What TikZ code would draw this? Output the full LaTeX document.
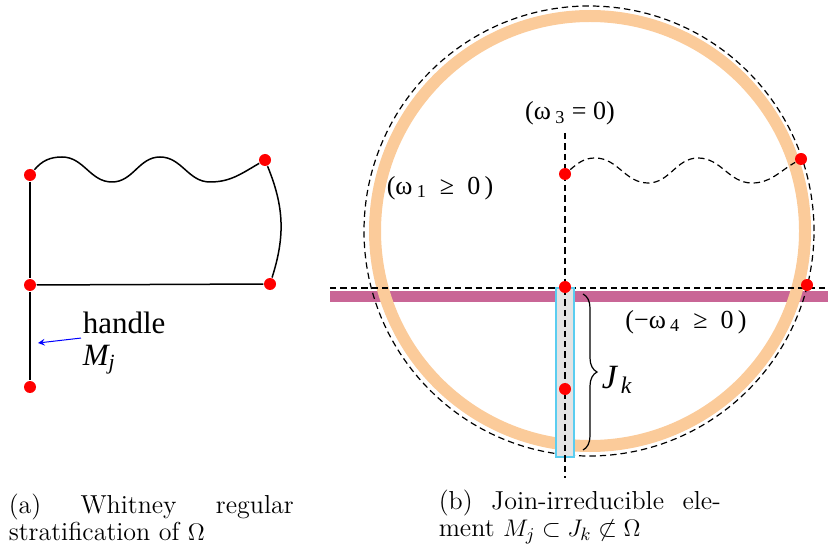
\documentclass[tikz,border=0pt]{standalone}
\usepackage{amsmath}
\usepackage{fontspec}
\newfontfamily\tnr{Liberation Serif}
\usetikzlibrary{decorations.pathreplacing}
\definecolor{ringorange}{RGB}{251,203,154}
\definecolor{bandpink}{RGB}{201,102,150}
\definecolor{boxcyan}{RGB}{90,205,240}
\definecolor{boxgray}{RGB}{228,228,228}
\tikzstyle{vertex}=[circle, draw=none, fill=red, inner sep=0pt,
minimum size=6pt]
\tikzstyle{fig}=[inner sep=0pt, font=\tnr\fontsize{15.5}{17}\selectfont]
\tikzstyle{cond}=[inner sep=0pt, font=\tnr\fontsize{13}{15}\selectfont]
\tikzstyle{guide}=[dash pattern=on 3.2pt off 2pt, line width=0.6pt]
\tikzstyle{subcap}=[anchor=north west, inner sep=0pt, align=justify,
font=\fontsize{13}{13.5}\selectfont]

\begin{document}
\begin{tikzpicture}[x=0.5pt, y=0.5pt, line width=0.75pt]
  \useasboundingbox (0,0) rectangle (828,-550);

  % Left Nodes
  \node (a1) at (30,-175) [vertex]{};
  \node (a2) at (265,-160) [vertex]{};
  \node (a3) at (30,-285) [vertex]{};
  \node (a4) at (270,-284) [vertex]{};
  \node (a5) at (30,-387) [vertex]{};

  % Left Edges
  \draw (a1) -- (a3) -- (a5);
  \draw (a3) -- (a4);
  \draw (a2) to[bend left=20] (a4);
  \draw (a1) to[out=50,in=180] (62,-157) to[out=0,in=180] (112,-182)
    to[out=0,in=180] (160,-157) to[out=0,in=180] (210,-182)
    to[out=0,in=210] (a2);

  % Handle
  \node (handle) at (82,-333) [fig, anchor=base west]{handle};
  \node (mj) at (82,-365) [fig, anchor=base west]{\itshape M\textsubscript{j}};
  \coordinate (tip) at (38,-343);
  \draw[blue, line width=0.5pt, -stealth] ([shift={(-1,-4)}]handle.south west) -- (tip);

  % Ring and cut
  \draw[bandpink, line width=5.5pt] (330,-296.5) -- (828,-296.5);
  \draw[ringorange, line width=6pt] (590,-231) circle[radius=215];
  \draw[guide] (589,-231) circle[radius=225];
  \draw[guide] (330,-288) -- (828,-288);
  \draw[boxcyan, fill=boxgray, line width=0.6pt] (556,-288) rectangle (574,-457);
  \draw[guide] (565,-133) -- (565,-478);

  % Right Nodes
  \node (b1) at (565,-174) [vertex]{};
  \node (b2) at (801,-159) [vertex]{};
  \node (b3) at (565,-287) [vertex]{};
  \node (b4) at (807,-285) [vertex]{};
  \node (b5) at (565,-389) [vertex]{};

  % Right Edges
  \draw[guide] (b1) to[out=40,in=180] (595,-158) to[out=0,in=180] (648,-183)
    to[out=0,in=180] (698,-158) to[out=0,in=180] (752,-183)
    to[out=0,in=210] (b2);
  \draw[line width=0.6pt, decorate, decoration={brace, amplitude=7pt}]
    (583,-294) -- (583,-450);

  % Labels
  \node (w3) at (570,-113) [cond]{(ω\,\textsubscript{3} = 0)};
  \node (w1) at (440,-188) [cond]{(ω\,\textsubscript{1}\enspace≥\enspace0\,)};
  \node (w4) at (686,-322) [cond]{(−ω\,\textsubscript{4}\enspace≥\enspace0\,)};
  \node (jk) at (601,-388) [cond, anchor=base west,
    font=\tnr\fontsize{17}{19}\selectfont]{\itshape J\textsubscript{\,k}};

  % Captions
  \node (capa) at (8,-493.5) [subcap, text width=142.5pt]{\noindent
    (a) Whitney regular\linebreak stratification of $\Omega$};
  \node (capb) at (438,-489.5) [subcap, text width=141pt]{\noindent
    (b) Join-irreducible ele-\linebreak ment $M_j\subset J_k\not\subset\Omega$};
\end{tikzpicture}
\end{document}
